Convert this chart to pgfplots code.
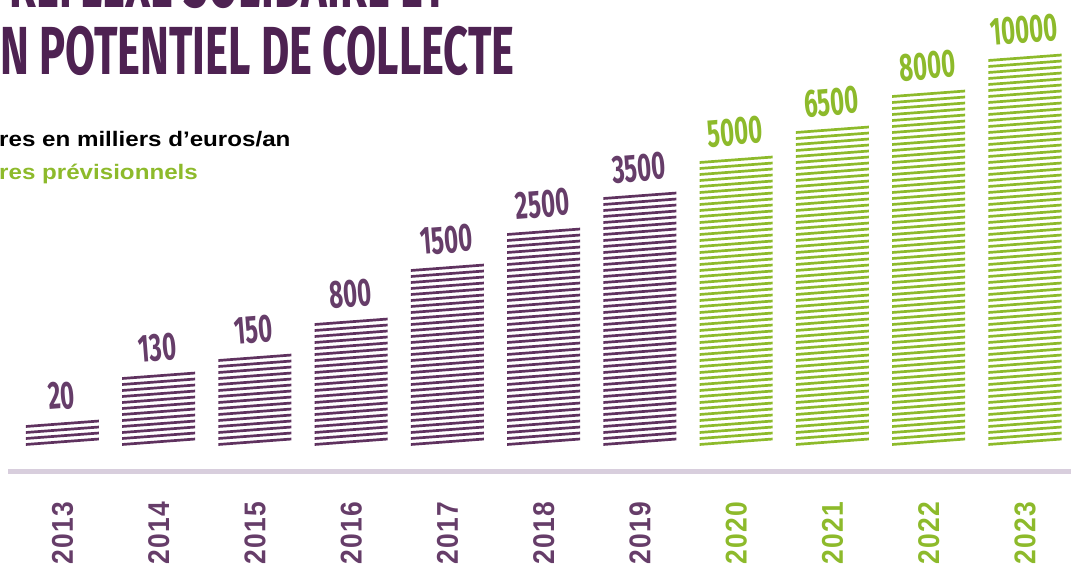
\documentclass[border=0pt]{standalone}
\usepackage{pgfplots}
\pgfplotsset{compat=1.18}
\usepackage{pgfplotstable}
\usepackage{fontspec}
\setmainfont{Liberation Sans}
\newfontfamily\numfont[FakeStretch=0.62]{Fira Sans}
\newfontfamily\titlefont[FakeStretch=0.64]{Fira Sans}
\newfontfamily\yearfont[FakeStretch=0.88,LetterSpace=4]{Liberation Sans}
\newfontfamily\notefont[FakeStretch=1.15]{Liberation Sans}
\definecolor{barviolet}{HTML}{5F325F}
\definecolor{labviolet}{HTML}{663D69}
\definecolor{titleviolet}{HTML}{4E2252}
\definecolor{vert}{HTML}{8DBA2B}
\definecolor{ligne}{HTML}{D8CEDD}

% x = position, value = label, h = drawn bar height (pt, stylised, not proportional)
\pgfplotstableread{
x year value h
0 2013 20 20.7
1 2014 130 68.7
2 2015 150 86.7
3 2016 800 122.7
4 2017 1500 176.7
5 2018 2500 212.7
6 2019 3500 248.7
7 2020 5000 284.7
8 2021 6500 314.7
9 2022 8000 350.7
10 2023 10000 386.7
}\datatable

\begin{document}
\begin{tikzpicture}
\path[use as bounding box] (0pt,0pt) rectangle (1071pt,567pt);
\node[anchor=base east, inner sep=0pt, text=titleviolet, font=\titlefont\bfseries\fontsize{68}{68}\selectfont] at (447pt,559.5pt) {REFLEXE SOLIDAIRE ET};
\node[anchor=base west, inner sep=0pt, text=titleviolet, font=\titlefont\bfseries\fontsize{68}{68}\selectfont] at (0pt,492pt) {N POTENTIEL DE COLLECTE};
\node[anchor=base west, inner sep=0pt, text=black, font=\notefont\bfseries\fontsize{21}{21}\selectfont] at (-1pt,420pt) {res en milliers d’euros/an};
\node[anchor=base west, inner sep=0pt, text=vert, font=\notefont\bfseries\fontsize{21}{21}\selectfont] at (-1pt,387pt) {res prévisionnels};
\begin{axis}[
  at={(8pt,95.5pt)}, anchor=south west,
  scale only axis, width=1063pt, height=471.5pt,
  xmin=-0.566, xmax=10.478, ymin=-29, ymax=442.5,
  axis y line=none, axis x line=bottom,
  x axis line style={-, line width=4.5pt, color=ligne},
  xtick={0,...,10},
  xticklabels={\textcolor{labviolet}{2013},\textcolor{labviolet}{2014},\textcolor{labviolet}{2015},\textcolor{labviolet}{2016},\textcolor{labviolet}{2017},\textcolor{labviolet}{2018},\textcolor{labviolet}{2019},\textcolor{vert}{2020},\textcolor{vert}{2021},\textcolor{vert}{2022},\textcolor{vert}{2023}},
  major tick length=0pt, tick style={draw=none},
  xticklabel style={rotate=90, anchor=east, inner sep=0pt, font=\yearfont\bfseries\fontsize{30}{30}\selectfont},
  xticklabel shift=30pt,
  clip=false,
]
\pgfplotsinvokeforeach{0,...,6}{
  \addplot[ycomb, line width=73pt, barviolet, dash pattern=on 2.7pt off 3.3pt,
    restrict x to domain=#1:#1,
    transform canvas={cm={1,0.075,0,1,(0pt,{-0.075*(62.5+96.25*#1)*1pt})}}]
    table[x=x,y=h]{\datatable};
}
\pgfplotsinvokeforeach{7,...,10}{
  \addplot[ycomb, line width=73pt, vert, dash pattern=on 2.7pt off 3.3pt,
    restrict x to domain=#1:#1,
    transform canvas={cm={1,0.075,0,1,(0pt,{-0.075*(62.5+96.25*#1)*1pt})}}]
    table[x=x,y=h]{\datatable};
}
\addplot[draw=none, mark=none, restrict x to domain=0:6, nodes near coords, point meta=explicit symbolic,
  every node near coord/.append style={anchor=south, yshift=12pt, rotate=4.5, inner sep=0pt, text=labviolet, font=\numfont\bfseries\fontsize{39}{39}\selectfont}]
  table[x=x,y=h,meta=value]{\datatable};
\addplot[draw=none, mark=none, restrict x to domain=7:10, nodes near coords, point meta=explicit symbolic,
  every node near coord/.append style={anchor=south, yshift=12pt, rotate=4.5, inner sep=0pt, text=vert, font=\numfont\bfseries\fontsize{39}{39}\selectfont}]
  table[x=x,y=h,meta=value]{\datatable};
\end{axis}
\end{tikzpicture}
\end{document}
